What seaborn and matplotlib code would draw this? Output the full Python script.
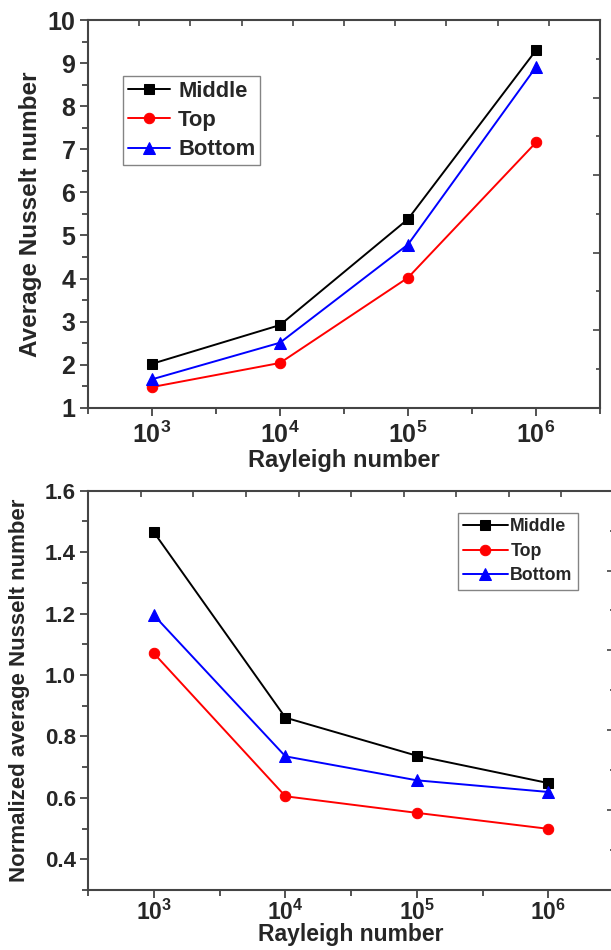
import numpy as np
import pandas as pd
import seaborn as sns
import matplotlib.pyplot as plt
from matplotlib.ticker import FixedLocator, MultipleLocator, NullFormatter

# Data
rayleigh = [1e3, 1e4, 1e5, 1e6]
rayleigh_labels = [r'$\mathbf{10^3}$', r'$\mathbf{10^4}$', r'$\mathbf{10^5}$', r'$\mathbf{10^6}$']
series = ['Middle', 'Top', 'Bottom']

nu_middle = [2.02, 2.92, 5.38, 9.30]
nu_top = [1.48, 2.04, 4.02, 7.16]
nu_bottom = [1.66, 2.51, 4.79, 8.91]

norm_middle = [1.464, 0.861, 0.737, 0.648]
norm_top = [1.070, 0.605, 0.551, 0.499]
norm_bottom = [1.194, 0.735, 0.657, 0.619]

colors = {'Middle': 'black', 'Top': '#ff0000', 'Bottom': '#0000ff'}
markers = {'Middle': 's', 'Top': 'o', 'Bottom': '^'}

sns.set_style('ticks')
plt.rcParams['font.family'] = ['Liberation Sans', 'DejaVu Sans']
plt.rcParams['font.weight'] = 'bold'
plt.rcParams['axes.labelweight'] = 'bold'
plt.rcParams['mathtext.fontset'] = 'custom'
plt.rcParams['mathtext.bf'] = 'Liberation Sans:bold'
plt.rcParams['mathtext.rm'] = 'Liberation Sans:bold'

spine_col = '#444444'

fig = plt.figure(figsize=(6.11, 9.5), dpi=100)
ax1 = fig.add_axes([0.144, 0.5708, 0.838, 0.408])
ax2 = fig.add_axes([0.1445, 0.0632, 0.8604, 0.4203])


def draw(ax, vals, ylim, ymajor, yminor, fs, ylabel, leg_kw):
    ytick_fs, xtick_fs, xlabel_fs, ylabel_fs, xpad, xlabelpad, ylabelpad = fs
    for name, v in zip(series, vals):
        sns.lineplot(x=rayleigh, y=v, ax=ax, color=colors[name], marker=markers[name],
                     markersize=7.5 if markers[name] != '^' else 8.5, markeredgecolor=colors[name],
                     linewidth=1.4, label=name)
    ax.set_xscale('log')
    ax.set_xlim(10 ** 2.5, 10 ** 6.5)
    ax.set_ylim(*ylim)
    ax.xaxis.set_major_locator(FixedLocator(rayleigh))
    ax.xaxis.set_minor_locator(FixedLocator([10 ** 2.5, 10 ** 3.5, 10 ** 4.5, 10 ** 5.5, 10 ** 6.5]))
    ax.xaxis.set_minor_formatter(NullFormatter())
    ax.set_xticklabels(rayleigh_labels)
    ax.yaxis.set_major_locator(MultipleLocator(ymajor))
    ax.yaxis.set_minor_locator(MultipleLocator(yminor))
    ax.tick_params(which='both', direction='out', color=spine_col, width=1.3,
                   top=False, right=False)
    ax.tick_params(axis='y', labelsize=ytick_fs)
    ax.tick_params(axis='x', labelsize=xtick_fs)
    ax.tick_params(which='major', length=6, pad=3)
    ax.tick_params(which='minor', length=4)
    ax.tick_params(axis='x', which='major', pad=xpad)
    for s in ax.spines.values():
        s.set_color(spine_col)
        s.set_linewidth(1.5)
    ax.set_xlabel('Rayleigh number', fontsize=xlabel_fs, fontweight='bold', labelpad=xlabelpad)
    ax.set_ylabel(ylabel, fontsize=ylabel_fs, fontweight='bold', labelpad=ylabelpad)

    # mirror axes with their own tick spacing
    tx = ax.twiny()
    tx.set_xlim(0, 4)
    tx.xaxis.set_major_locator(MultipleLocator(0.4))
    tx.tick_params(axis='x', direction='in', length=4, width=1.2, color=spine_col,
                   labeltop=False, top=True)
    ty = ax.twinx()
    ty.set_ylim(0, 1)
    ty.yaxis.set_major_locator(MultipleLocator(0.2))
    ty.yaxis.set_minor_locator(MultipleLocator(0.1))
    ty.tick_params(axis='y', which='both', direction='in', width=1.2, color=spine_col,
                   labelright=False, right=True)
    ty.tick_params(axis='y', which='major', length=5)
    ty.tick_params(axis='y', which='minor', length=3)
    for a in (tx, ty):
        for s in a.spines.values():
            s.set_visible(False)

    leg = ax.legend(loc='upper left', frameon=True, fancybox=False, borderaxespad=0,
                    edgecolor='#666666', **leg_kw)
    leg.get_frame().set_linewidth(1.0)
    for t in leg.get_texts():
        t.set_fontweight('bold')


draw(ax1, [nu_middle, nu_top, nu_bottom], (1, 10), 1, 0.5,
     (18, 18, 17, 17.5, 4, 1, 4),
     'Average Nusselt number',
     dict(bbox_to_anchor=(0.068, 0.856), fontsize=15.8, handlelength=1.95,
          labelspacing=0.38, handletextpad=0.35, borderpad=0.22))

draw(ax2, [norm_middle, norm_top, norm_bottom], (0.3, 1.6), 0.2, 0.1,
     (16, 16.5, 16.5, 16, 1, -1, 11),
     'Normalized average Nusselt number',
     dict(bbox_to_anchor=(0.703, 0.944), fontsize=12.8, handlelength=2.5,
          labelspacing=0.42, handletextpad=0.15, borderpad=0.3))

fig.savefig('out.png', dpi=100)
